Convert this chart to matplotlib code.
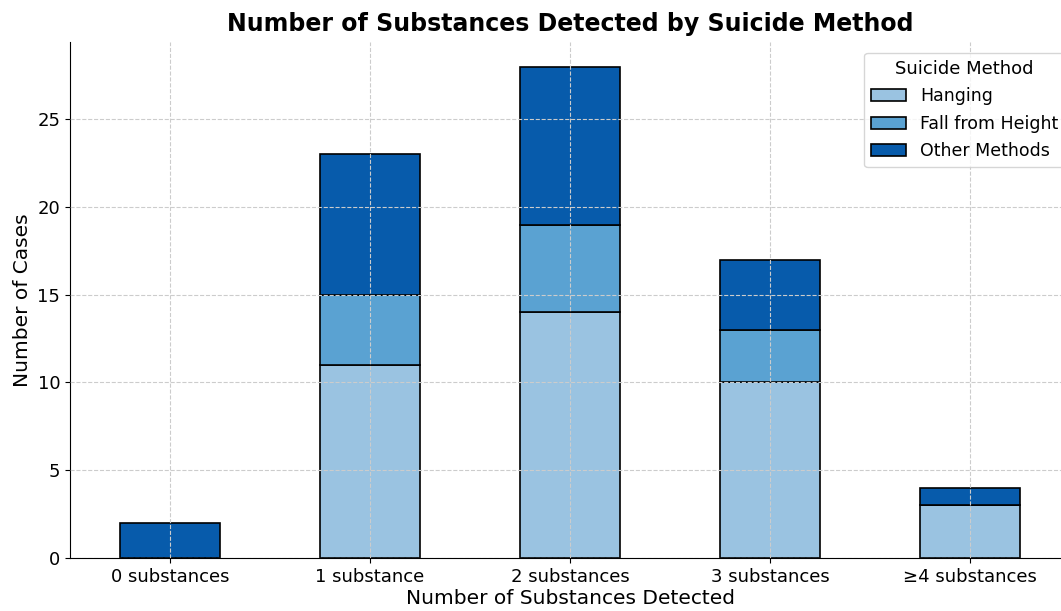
import matplotlib
matplotlib.use("Agg")
import matplotlib.pyplot as plt
import numpy as np

categories = ["0 substances", "1 substance", "2 substances", "3 substances", "\u22654 substances"]
hanging = [0, 11, 14, 10, 3]
fall = [0, 4, 5, 3, 0]
other = [2, 8, 9, 4, 1]
series_names = ["Hanging", "Fall from Height", "Other Methods"]
colors = ["#9ac3e1", "#5aa2d2", "#075bab"]

fig = plt.figure(figsize=(10.61, 6.11), dpi=100)
ax = fig.add_axes([70/1061, 53/611, 1000/1061, 516/611])

x = np.arange(len(categories))
w = 0.5
bottom = np.zeros(len(categories))
for vals, name, c in zip([hanging, fall, other], series_names, colors):
    v = np.array(vals, dtype=float)
    ax.bar(x, v, w, bottom=bottom, color=c, edgecolor="black", linewidth=1.2, label=name, zorder=2)
    bottom += v

ax.set_xlim(-0.5, 4.5)
ax.set_ylim(0, 29.4)
ax.set_xticks(x)
ax.set_xticklabels(categories, fontsize=13)
ax.set_yticks([0, 5, 10, 15, 20, 25])
ax.tick_params(axis='y', labelsize=13)
ax.grid(True, linestyle="--", color="#cccccc", linewidth=0.8, zorder=3)
ax.set_axisbelow(False)
for s in ["top", "right"]:
    ax.spines[s].set_visible(False)
ax.set_xlabel("Number of Substances Detected", fontsize=14.5, labelpad=2)
ax.set_ylabel("Number of Cases", fontsize=14.5)
ax.set_title("Number of Substances Detected by Suicide Method", fontsize=17, fontweight="bold", pad=8)
leg = ax.legend(title="Suicide Method", loc="upper right", bbox_to_anchor=(0.995, 0.979),
                borderaxespad=0, fontsize=12.5, title_fontsize=13, labelspacing=0.55)
leg.set_zorder(5)

fig.savefig("out.png", dpi=100)
